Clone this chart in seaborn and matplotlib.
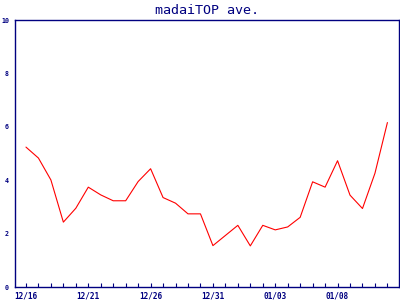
import numpy as np
import pandas as pd
import matplotlib
matplotlib.use("Agg")
import matplotlib.pyplot as plt
import seaborn as sns

# Data
tick_labels = ["12/16", "12/21", "12/26", "12/31", "01/03", "01/08"]
label_every = 5
values = [5.24, 4.83, 4.01, 2.43, 2.95, 3.74, 3.45, 3.23, 3.23, 3.95,
          4.43, 3.35, 3.14, 2.74, 2.74, 1.55, 1.93, 2.31, 1.54, 2.31,
          2.14, 2.25, 2.61, 3.94, 3.74, 4.73, 3.44, 2.94, 4.26, 6.16]
y_ticks = [0, 2, 4, 6, 8, 10]
title = "madaiTOP ave."

navy = "#000080"

sns.set_style("white")
plt.rcParams["font.family"] = ["DejaVu Sans Mono"]

df = pd.DataFrame({"idx": np.arange(len(values)), "value": values})

fig = plt.figure(figsize=(4, 3), dpi=100)
ax = fig.add_axes([0.0375, 0.0433, 0.96, 0.89])
sns.lineplot(data=df, x="idx", y="value", color="red", linewidth=0.8, ax=ax)

ax.set_xlim(-0.88, 29.93)
ax.set_ylim(0, 10)
ax.set_xlabel("")
ax.set_ylabel("")

ax.set_xticks(np.arange(len(values)))
labels = ["" for _ in range(len(values))]
for i, lab in enumerate(tick_labels):
    labels[i * label_every] = lab
ax.set_xticklabels(labels)
ax.set_yticks(y_ticks)
ax.set_yticklabels([str(v) for v in y_ticks])

ax.tick_params(axis="x", direction="in", length=3, width=0.8, color=navy,
               labelcolor=navy, labelsize=5.6, pad=3, bottom=True)
ax.tick_params(axis="y", length=0, labelcolor=navy, labelsize=4.8, pad=4.3, left=True)
for lab in ax.get_xticklabels() + ax.get_yticklabels():
    lab.set_fontweight("bold")

for s in ax.spines.values():
    s.set_color(navy)
    s.set_linewidth(1.0)
    s.set_visible(True)

ax.set_title(title, color=navy, fontsize=9.6, pad=4, family="DejaVu Sans Mono")

fig.savefig("out.png", dpi=100, facecolor="white")
